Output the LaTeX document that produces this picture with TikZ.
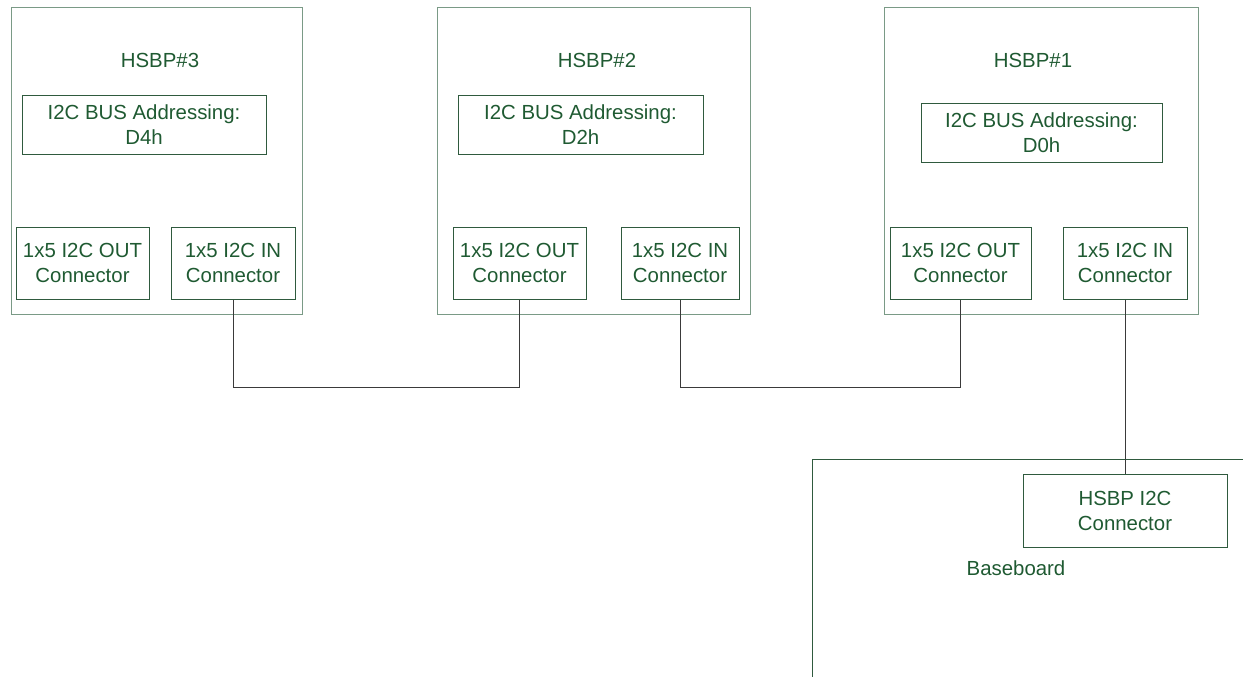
\documentclass[tikz,border=0pt]{standalone}
\usepackage{fontspec}
\setmainfont{Liberation Sans}
\usepackage{tikz}
\usetikzlibrary{positioning,calc}
\usepackage{xcolor}

\definecolor{boardline}{HTML}{7A9A86}
\definecolor{boxline}{HTML}{2F5A3E}
\definecolor{labeltext}{HTML}{1F5A32}
\definecolor{wireline}{HTML}{3A3A3A}

\tikzset{
  board/.style={draw=boardline, line width=1pt, minimum height=306pt, inner sep=0pt},
  part/.style={draw=boxline, line width=1pt, align=center, inner sep=0pt, text=labeltext},
  title/.style={text=labeltext, inner sep=0pt},
  wire/.style={draw=wireline, line width=1pt}
}

\begin{document}
\begin{tikzpicture}[x=1pt, y=-1pt, font=\fontsize{20.4}{25}\selectfont]
  \useasboundingbox (0,0) rectangle (1243,677);

  \node[board, minimum width=291pt] (b3) at (156.5,161) {};
  \node[board, minimum width=313pt] (b2) at (593.5,161) {};
  \node[board, minimum width=314pt] (b1) at (1041,161) {};

  \node[title] (t3) at (160,60) {HSBP\#3};
  \node[title] (t2) at (597,60) {HSBP\#2};
  \node[title] (t1) at (1033,60) {HSBP\#1};

  \node[part, minimum width=244pt, minimum height=58pt] (addr3) at (144,125) {I2C BUS Addressing:\\D4h};
  \node[part, minimum width=245pt, minimum height=58pt] (addr2) at (580.5,125) {I2C BUS Addressing:\\D2h};
  \node[part, minimum width=241pt, minimum height=59pt] (addr1) at (1041.5,132.5) {I2C BUS Addressing:\\D0h};

  \node[part, minimum width=133pt, minimum height=72pt] (out3) at (82.5,263) {1x5 I2C OUT\\Connector};
  \node[part, minimum width=124pt, minimum height=72pt] (in3) at (233,263) {1x5 I2C IN\\Connector};
  \node[part, minimum width=133pt, minimum height=72pt] (out2) at (519.5,263) {1x5 I2C OUT\\Connector};
  \node[part, minimum width=118pt, minimum height=72pt] (in2) at (680,263) {1x5 I2C IN\\Connector};
  \node[part, minimum width=141pt, minimum height=72pt] (out1) at (960.5,263) {1x5 I2C OUT\\Connector};
  \node[part, minimum width=124pt, minimum height=72pt] (in1) at (1125,263) {1x5 I2C IN\\Connector};

  % baseboard
  \draw[draw=boxline, line width=1pt] (812,677) |- (1243,459);
  \node[part, minimum width=204pt, minimum height=73pt] (i2c) at (1125,510.5) {HSBP I2C\\Connector};
  \node[title] (base) at (1016,568) {Baseboard};

  \draw[wire] (in3.south) -- ++(0,88) -| (out2.south);
  \draw[wire] (in2.south) -- ++(0,88) -| (out1.south);
  \draw[wire] (in1.south) -- (i2c.north);
\end{tikzpicture}
\end{document}
